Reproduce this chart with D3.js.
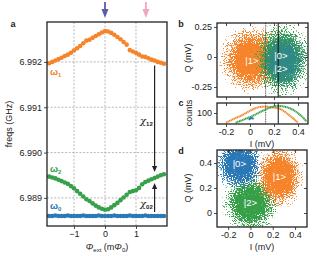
<!DOCTYPE html>
<html>
<head>
<meta charset="utf-8">
<script src="https://cdn.jsdelivr.net/npm/d3@7"></script>
<style>
  body { margin: 0; background: #fff; }
  text { font-family: "Liberation Sans", Arial, sans-serif; }
</style>
</head>
<body>
<script>
// ---- panel a: readout resonator frequencies vs flux ----
const phi = [-1.8, -1.7, -1.6, -1.5, -1.4, -1.3, -1.2, -1.1, -1.0, -0.9, -0.8, -0.7, -0.6,
  -0.5, -0.4, -0.3, -0.2, -0.1, 0.0, 0.1, 0.2, 0.3, 0.4, 0.5, 0.6, 0.7, 0.8, 0.9, 1.0,
  1.1, 1.2, 1.3, 1.4, 1.5, 1.6, 1.7, 1.8, 1.9];
const w1 = [6.99197, 6.99200, 6.99203, 6.99206, 6.99209, 6.99213, 6.99216, 6.99220, 6.99225,
  6.99230, 6.99235, 6.99241, 6.99247, 6.99249, 6.99253, 6.99257, 6.99261, 6.99265, 6.99268,
  6.99267, 6.99264, 6.99260, 6.99255, 6.99250, 6.99244, 6.99238, 6.99226, 6.99223, 6.99220,
  6.99216, 6.99212, 6.99211, 6.99208, 6.99205, 6.99203, 6.99200, 6.99198, 6.99196];
const w2 = [6.98947, 6.98945, 6.98943, 6.98940, 6.98937, 6.98934, 6.98931, 6.98926, 6.98921,
  6.98915, 6.98909, 6.98903, 6.98897, 6.98893, 6.98888, 6.98883, 6.98879, 6.98876, 6.98874,
  6.98875, 6.98879, 6.98884, 6.98889, 6.98895, 6.98901, 6.98907, 6.98913, 6.98915, 6.98917,
  6.98922, 6.98930, 6.98935, 6.98938, 6.98941, 6.98944, 6.98947, 6.98950, 6.98952];
const w0 = [6.98860, 6.98860, 6.98861, 6.98860, 6.98860, 6.98860, 6.98861, 6.98860, 6.98860,
  6.98860, 6.98860, 6.98861, 6.98860, 6.98860, 6.98860, 6.98860, 6.98861, 6.98860, 6.98860,
  6.98860, 6.98860, 6.98861, 6.98860, 6.98860, 6.98860, 6.98860, 6.98861, 6.98860, 6.98860,
  6.98860, 6.98860, 6.98861, 6.98860, 6.98860, 6.98860, 6.98860, 6.98860, 6.98860];
const yTicksA = [6.989, 6.990, 6.991, 6.992];
const xTicksA = [-1, 0, 1];
const markerPhi = [0, 1.32];      // flux points of the two arrows on top
const chiPhi = 1.6;               // where the chi arrows are drawn

// ---- panel b: IQ clouds (centre / spread per state) ----
const statesB = ['|1>', '|2>', '|0>'];
const iB = [0.01, 0.27, 0.28];
const qB = [-0.02, -0.02, -0.03];
const sIB = [0.095, 0.085, 0.07];
const sQB = [0.10, 0.11, 0.09];
const yTicksB = [-0.25, 0, 0.25];
const xTicksIQ = [-0.2, 0, 0.2, 0.4];
const thresholds = [0.13, 0.235];   // dotted, solid

// ---- panel c: histograms along I (log counts) ----
const histI1 = [-0.20, -0.16, -0.12, -0.08, -0.04, 0.00, 0.04, 0.08, 0.12, 0.16, 0.20, 0.24, 0.28, 0.32, 0.36, 0.40];
const hist1 = [35, 45, 58, 72, 95, 128, 165, 192, 200, 195, 182, 165, 125, 85, 55, 35];
const histI2 = [-0.12, -0.08, -0.04, 0.00, 0.04, 0.08, 0.12, 0.16, 0.20, 0.24, 0.28, 0.32, 0.36, 0.40, 0.44, 0.47];
const hist2 = [35, 42, 52, 64, 82, 108, 140, 175, 205, 215, 205, 178, 140, 98, 62, 40];
const histI0 = [-0.01, 0.01, 0.03];
const hist0 = [48, 58, 52];

// ---- panel d: IQ clouds after rotation ----
const statesD = ['|2>', '|0>', '|1>'];
const iD = [0.0, -0.10, 0.26];
const qD = [0.08, 0.39, 0.29];
const sID = [0.09, 0.08, 0.08];
const sQD = [0.085, 0.075, 0.09];
const yTicksD = [0, 0.2, 0.4];

const col = { '|0>': '#2a78b6', '|1>': '#f5842a', '|2>': '#36a048' };
const ink = '#222';

const svg = d3.select('body').append('svg')
  .attr('width', 317).attr('height', 256);

const defs = svg.append('defs');
Object.keys(col).forEach((k, i) => {
  const g = defs.append('radialGradient').attr('id', 'grad' + i);
  [[0, 1], [0.38, 0.95], [0.7, 0.45], [1, 0]].forEach(([o, a]) => {
    g.append('stop').attr('offset', o).attr('stop-color', col[k]).attr('stop-opacity', a);
  });
  // grainy texture so the cloud looks like a scatter of shots
  const f = defs.append('filter').attr('id', 'speck' + i)
    .attr('x', '-10%').attr('y', '-10%').attr('width', '120%').attr('height', '120%');
  f.append('feTurbulence').attr('type', 'fractalNoise').attr('baseFrequency', 0.9)
    .attr('numOctaves', 1).attr('seed', 3 + i * 11).attr('result', 'noise');
  f.append('feColorMatrix').attr('in', 'noise').attr('type', 'matrix')
    .attr('values', '0 0 0 0 0  0 0 0 0 0  0 0 0 0 0  2.5 0 0 0 -0.75').attr('result', 'na');
  f.append('feComposite').attr('in', 'SourceAlpha').attr('in2', 'na').attr('operator', 'arithmetic')
    .attr('k1', 0).attr('k2', 6).attr('k3', -5).attr('k4', 0).attr('result', 'mask');
  const ct = f.append('feComponentTransfer').attr('in', 'SourceGraphic').attr('result', 'solid');
  ct.append('feFuncA').attr('type', 'linear').attr('slope', 50);
  f.append('feComposite').attr('in', 'solid').attr('in2', 'mask').attr('operator', 'in');
});
const gradId = s => Object.keys(col).indexOf(s);

function styleAxis(g) {
  g.select('.domain').remove();
  g.selectAll('line').attr('stroke', ink).attr('stroke-width', 0.8);
  g.selectAll('text').attr('font-size', 9).attr('fill', ink)
    .style('font-family', '"Liberation Sans", Arial, sans-serif');
}
const hy = d => String(d);   // plain hyphen minus like the original

function frame(x0, y0, x1, y1) {
  svg.append('rect').attr('x', x0).attr('y', y0).attr('width', x1 - x0).attr('height', y1 - y0)
    .attr('fill', 'none').attr('stroke', ink).attr('stroke-width', 1.3);
}
function clip(id, x0, y0, x1, y1) {
  defs.append('clipPath').attr('id', id).append('rect')
    .attr('x', x0).attr('y', y0).attr('width', x1 - x0).attr('height', y1 - y0);
}
function label(x, y, t, opts = {}) {
  return svg.append('text').attr('x', x).attr('y', y).attr('font-size', opts.size || 9)
    .attr('text-anchor', opts.anchor || 'middle').attr('fill', opts.fill || ink)
    .attr('font-weight', opts.weight || 'normal').text(t);
}

// ================= panel a =================
const xA = d3.scaleLinear().domain([-1.87, 2.0]).range([47, 167]);
const yA = d3.scaleLinear().domain([6.98838, 6.99288]).range([226, 22]);

const grid = svg.append('g').attr('stroke', '#9a9a9a').attr('stroke-width', 0.7)
  .attr('stroke-dasharray', '2,1.6');
grid.selectAll('.gx').data(xTicksA).join('line')
  .attr('x1', d => xA(d)).attr('x2', d => xA(d)).attr('y1', 22).attr('y2', 226);
grid.selectAll('.gy').data(yTicksA).join('line')
  .attr('y1', d => yA(d)).attr('y2', d => yA(d)).attr('x1', 47).attr('x2', 167);

clip('clipA', 47, 22, 167, 226);
const dotsA = svg.append('g').attr('clip-path', 'url(#clipA)');
[[w1, col['|1>']], [w2, col['|2>']], [w0, col['|0>']]].forEach(([ser, c]) => {
  dotsA.append('g').selectAll('circle').data(phi).join('circle')
    .attr('cx', d => xA(d)).attr('cy', (d, i) => yA(ser[i])).attr('r', 2.3).attr('fill', c);
});

svg.append('g').attr('transform', 'translate(0,226)')
  .call(d3.axisBottom(xA).tickValues(xTicksA).tickSize(3).tickPadding(2).tickFormat(d3.format('d')))
  .call(styleAxis);
svg.append('g').attr('transform', 'translate(47,0)')
  .call(d3.axisLeft(yA).tickValues(yTicksA).tickFormat(d3.format('.3f')).tickSize(3).tickPadding(2))
  .call(styleAxis);
frame(47, 22, 167, 226);

// chi arrows
const ci = phi.indexOf(chiPhi);
const arr = svg.append('g').attr('stroke', ink).attr('fill', ink);
const cx = xA(chiPhi);
function vArrow(x, yFrom, yTo) {
  const dir = yTo > yFrom ? 1 : -1;
  arr.append('line').attr('x1', x).attr('x2', x).attr('y1', yFrom).attr('y2', yTo - dir * 5)
    .attr('stroke-width', 1.2);
  arr.append('path').attr('stroke', 'none')
    .attr('d', `M${x - 2.6},${yTo - dir * 6}L${x + 2.6},${yTo - dir * 6}L${x},${yTo}Z`);
}
vArrow(cx, yA(w1[ci]) + 5, yA(w2[ci]) - 6);
vArrow(cx, yA(w0[ci]) - 4, yA(w2[ci]) + 5);

[['12', 124], ['02', 207]].forEach(([s, y]) => {
  const t = svg.append('text').attr('x', 140).attr('y', y).attr('font-size', 10).attr('fill', ink);
  t.append('tspan').text('χ').style('font-family', '"DejaVu Serif", serif').style('font-style', 'italic');
  t.append('tspan').text(s).attr('font-size', 6).attr('dy', 2).attr('font-weight', 'bold');
});

// omega labels
[['1', col['|1>'], 75], ['2', col['|2>'], 172], ['0', col['|0>'], 209]].forEach(([s, c, y]) => {
  const t = svg.append('text').attr('x', 50).attr('y', y).attr('font-size', 9.5)
    .attr('fill', c).attr('font-weight', 'bold');
  t.append('tspan').text('ω');
  t.append('tspan').text(s).attr('font-size', 6).attr('dy', 2);
});

// flux markers on top
const markCol = ['#5a5ea8', '#f4a3c4'];
markerPhi.forEach((p, i) => {
  const x = xA(p);
  svg.append('line').attr('x1', x).attr('x2', x).attr('y1', 2).attr('y2', 11)
    .attr('stroke', markCol[i]).attr('stroke-width', 1.8);
  svg.append('path').attr('fill', markCol[i])
    .attr('d', `M${x - 3.5},${9}L${x + 3.5},${9}L${x},${18}Z`);
});

label(13, 27, 'a', { weight: 'bold' });
label(9, 124, 'freqs (GHz)').attr('transform', 'rotate(-90,9,124)').attr('dy', 3);
const xl = svg.append('text').attr('x', 107).attr('y', 250).attr('font-size', 9)
  .attr('text-anchor', 'middle').attr('fill', ink);
xl.append('tspan').text('Φ').style('font-style', 'italic');
xl.append('tspan').text('ext').attr('font-size', 6).attr('dy', 2);
xl.append('tspan').text(' (m').attr('dy', -2);
xl.append('tspan').text('Φ').style('font-style', 'italic');
xl.append('tspan').text('0').attr('font-size', 6).attr('dy', 2);
xl.append('tspan').text(')').attr('dy', -2);

// ================= panel b =================
const xB = d3.scaleLinear().domain([-0.275, 0.483]).range([217, 308]);
const yB = d3.scaleLinear().domain([-0.333, 0.283]).range([97, 23]);
clip('clipB', 217, 23, 308, 97);
const cloudB = svg.append('g').attr('clip-path', 'url(#clipB)');
statesB.forEach((s, i) => {
  cloudB.append('ellipse')
    .attr('cx', xB(iB[i])).attr('cy', yB(qB[i]))
    .attr('rx', xB(3 * sIB[i]) - xB(0)).attr('ry', yB(0) - yB(3 * sQB[i]))
    .attr('fill', `url(#grad${gradId(s)})`).attr('filter', `url(#speck${gradId(s)})`)
    .attr('opacity', s === '|0>' ? 0.55 : 1);
});
cloudB.selectAll('.th').data(thresholds).join('line')
  .attr('x1', d => xB(d)).attr('x2', d => xB(d)).attr('y1', 23).attr('y2', 97)
  .attr('stroke', (d, i) => i ? '#111' : '#555').attr('stroke-width', (d, i) => i ? 1 : 1.1)
  .attr('stroke-dasharray', (d, i) => i ? null : '1,0.8');

svg.append('g').attr('transform', 'translate(0,97)')
  .call(d3.axisBottom(xB).tickValues(xTicksIQ).tickSize(3).tickFormat('')).call(styleAxis);
svg.append('g').attr('transform', 'translate(0,23)')
  .call(d3.axisTop(xB).tickValues(xTicksIQ).tickSize(-3).tickFormat('')).call(styleAxis);
svg.append('g').attr('transform', 'translate(217,0)')
  .call(d3.axisLeft(yB).tickValues(yTicksB).tickSize(3).tickPadding(2).tickFormat(hy)).call(styleAxis);
svg.append('g').attr('transform', 'translate(308,0)')
  .call(d3.axisRight(yB).tickValues(yTicksB).tickSize(-3).tickFormat('')).call(styleAxis);
frame(217, 23, 308, 97);

label(252, 64, '|1>', { fill: '#fff', size: 9.5 });
label(281, 59, '|0>', { fill: '#fff', size: 9.5 });
label(281, 72, '|2>', { fill: '#fff', size: 9.5 });
label(181, 27, 'b', { weight: 'bold' });
label(191, 58, 'Q (mV)').attr('transform', 'rotate(-90,191,58)');

// ================= panel c =================
const yC = d3.scaleLog().domain([30, 300]).range([124, 103]);
clip('clipC', 217, 103, 308, 124);
const histG = svg.append('g').attr('clip-path', 'url(#clipC)');
const ln = (xs, ys) => d3.line().x((d, i) => xB(xs[i])).y(d => yC(d)).curve(d3.curveCatmullRom)(ys);
histG.append('path').attr('d', ln(histI1, hist1)).attr('fill', 'none')
  .attr('stroke', col['|1>']).attr('stroke-width', 2).attr('stroke-dasharray', '1.3,0.4');
histG.append('path').attr('d', ln(histI2, hist2)).attr('fill', 'none')
  .attr('stroke', col['|2>']).attr('stroke-width', 2).attr('stroke-dasharray', '1.3,0.4');
histG.append('path').attr('d', ln(histI0, hist0)).attr('fill', 'none')
  .attr('stroke', col['|0>']).attr('stroke-width', 2);
histG.selectAll('.th').data(thresholds).join('line')
  .attr('x1', d => xB(d)).attr('x2', d => xB(d)).attr('y1', 103).attr('y2', 124)
  .attr('stroke', (d, i) => i ? '#111' : '#555').attr('stroke-width', (d, i) => i ? 1 : 1.1)
  .attr('stroke-dasharray', (d, i) => i ? null : '1,0.8');

svg.append('g').attr('transform', 'translate(0,124)')
  .call(d3.axisBottom(xB).tickValues(xTicksIQ).tickSize(3).tickPadding(2).tickFormat(hy)).call(styleAxis);
svg.append('g').attr('transform', 'translate(0,103)')
  .call(d3.axisTop(xB).tickValues(xTicksIQ).tickSize(-3).tickFormat('')).call(styleAxis);
svg.append('g').attr('transform', 'translate(217,0)')
  .call(d3.axisLeft(yC).tickValues([100]).tickSize(3).tickPadding(2).tickFormat(d3.format('d'))).call(styleAxis);
frame(217, 103, 308, 124);

label(181, 106, 'c', { weight: 'bold' });
label(192, 113, 'counts').attr('transform', 'rotate(-90,192,113)');
label(262, 147, 'I (mV)');

// ================= panel d =================
const xD = d3.scaleLinear().domain([-0.30, 0.507]).range([217, 307]);
const yD = d3.scaleLinear().domain([-0.112, 0.504]).range([227, 150]);
clip('clipD', 217, 150, 307, 227);
const cloudD = svg.append('g').attr('clip-path', 'url(#clipD)');
statesD.forEach((s, i) => {
  cloudD.append('ellipse')
    .attr('cx', xD(iD[i])).attr('cy', yD(qD[i]))
    .attr('rx', xD(3 * sID[i]) - xD(0)).attr('ry', yD(0) - yD(3 * sQD[i]))
    .attr('fill', `url(#grad${gradId(s)})`).attr('filter', `url(#speck${gradId(s)})`);
});
svg.append('g').attr('transform', 'translate(0,227)')
  .call(d3.axisBottom(xD).tickValues(xTicksIQ).tickSize(3).tickPadding(2).tickFormat(hy)).call(styleAxis);
svg.append('g').attr('transform', 'translate(0,150)')
  .call(d3.axisTop(xD).tickValues(xTicksIQ).tickSize(-3).tickFormat('')).call(styleAxis);
svg.append('g').attr('transform', 'translate(217,0)')
  .call(d3.axisLeft(yD).tickValues(yTicksD).tickSize(3).tickPadding(2).tickFormat(hy)).call(styleAxis);
svg.append('g').attr('transform', 'translate(307,0)')
  .call(d3.axisRight(yD).tickValues(yTicksD).tickSize(-3).tickFormat('')).call(styleAxis);
frame(217, 150, 307, 227);

statesD.forEach((s, i) => {
  label(xD(iD[i]), yD(qD[i]) + 3, s, { fill: '#fff', size: 9.5 });
});
label(181, 154, 'd', { weight: 'bold' });
label(191, 188, 'Q (mV)').attr('transform', 'rotate(-90,191,188)');
label(262, 250, 'I (mV)');
</script>
</body>
</html>
